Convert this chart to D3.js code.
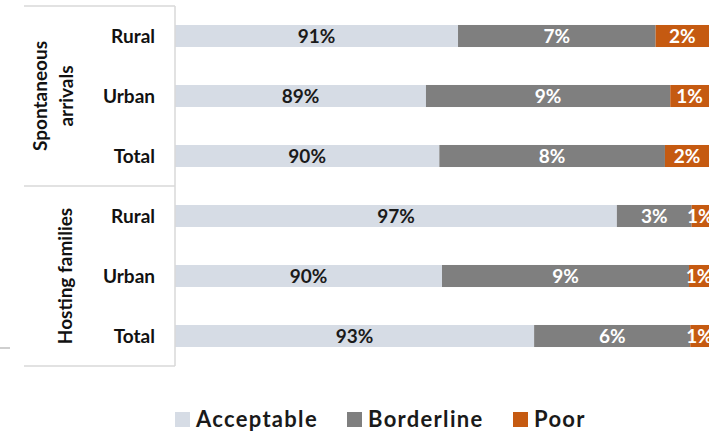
<!DOCTYPE html>
<html>
<head>
<meta charset="utf-8">
<script src="https://cdn.jsdelivr.net/npm/d3@7"></script>
<style>
  body { margin: 0; background: #fff; }
  svg { display: block; font-family: Lato, "Open Sans", sans-serif; font-weight: 700; }
</style>
</head>
<body>
<svg id="chart" width="722" height="433"></svg>
<script>
// data (x axis starts at 80%)
const groups = ['Spontaneous arrivals', 'Hosting families'];
const categories = ['Rural', 'Urban', 'Total', 'Rural', 'Urban', 'Total'];
const acceptable = [90.6, 89.4, 89.9, 96.55, 90.0, 93.45];
const borderline = [7.4, 9.15, 8.45, 2.8, 9.25, 5.85];
const poor = [2.0, 1.45, 1.65, 0.65, 0.75, 0.7];
const seriesNames = ['Acceptable', 'Borderline', 'Poor'];
const xDomain = [80, 100];

const colors = {Acceptable: '#d6dce5', Borderline: '#7f7f7f', Poor: '#c55a11'};
const labelColors = {Acceptable: '#1a1a1a', Borderline: '#fff', Poor: '#fff'};
const values = {Acceptable: acceptable, Borderline: borderline, Poor: poor};

const rows = categories.map(function(c, i) {
  return {id: i, group: groups[Math.floor(i / 3)], cat: c,
    Acceptable: acceptable[i], Borderline: borderline[i], Poor: poor[i]};
});

const svg = d3.select('#chart');
const plot = {left: 175, right: 709, top: 6, bottom: 366};

let x = d3.scaleLinear().domain(xDomain).range([plot.left, plot.right]).clamp(true);
let y = d3.scaleBand().domain(rows.map(function(d) { return d.id; }))
  .range([plot.top, plot.bottom]).paddingInner(0.633).paddingOuter(0.3165);

let stack = d3.stack().keys(seriesNames)(rows);

svg.append('clipPath').attr('id', 'plotClip')
  .append('rect')
    .attr('x', plot.left).attr('y', 0)
    .attr('width', plot.right - plot.left + 1).attr('height', 433);

let layers = svg.append('g').attr('clip-path', 'url(#plotClip)')
  .selectAll('g').data(stack).enter()
  .append('g');

layers.selectAll('rect')
  .data(function(s) { return s.map(function(d) { d.key = s.key; return d; }); })
  .enter().append('rect')
    .attr('fill', function(d) { return colors[d.key]; })
    .attr('x', function(d) { return x(d[0]); })
    .attr('y', function(d) { return y(d.data.id); })
    .attr('width', function(d) { return x(d[1]) - x(d[0]); })
    .attr('height', y.bandwidth());

layers.selectAll('text')
  .data(function(s) { return s; })
  .enter().append('text')
    .attr('x', function(d) { return (x(d[0]) + x(d[1])) / 2; })
    .attr('y', function(d) { return y(d.data.id) + y.bandwidth() / 2; })
    .attr('dy', '0.37em')
    .attr('text-anchor', 'middle')
    .attr('font-size', 19)
    .attr('fill', function(d) { return labelColors[d.key]; })
    .text(function(d) { return Math.round(values[d.key][d.data.id]) + '%'; });

// category labels
svg.append('g').selectAll('text').data(rows).enter()
  .append('text')
    .attr('x', 155)
    .attr('y', function(d) { return y(d.id) + y.bandwidth() / 2; })
    .attr('dy', '0.37em')
    .attr('text-anchor', 'end')
    .attr('font-size', 19)
    .attr('fill', '#111')
    .text(function(d) { return d.cat; });

// group brackets
const lineColor = '#d9d9d9';
const groupEdges = [plot.top, 186, plot.bottom];
svg.append('g').selectAll('line').data(groupEdges).enter()
  .append('line')
    .attr('x1', 24).attr('x2', plot.left)
    .attr('y1', function(d) { return d; }).attr('y2', function(d) { return d; })
    .attr('stroke', lineColor).attr('stroke-width', 1.5);
svg.append('line')
  .attr('x1', plot.left).attr('x2', plot.left)
  .attr('y1', plot.top).attr('y2', plot.bottom)
  .attr('stroke', lineColor).attr('stroke-width', 1.5);
svg.append('line')
  .attr('x1', 0).attr('x2', 10).attr('y1', 348).attr('y2', 348)
  .attr('stroke', '#bfbfbf').attr('stroke-width', 1.5);

// group labels (rotated)
const groupLines = [['Spontaneous', 'arrivals'], ['Hosting families']];
const groupBase = [47, 72];
groupLines.forEach(function(lines, gi) {
  let cy = (groupEdges[gi] + groupEdges[gi + 1]) / 2;
  let t = svg.append('text')
    .attr('transform', 'translate(' + groupBase[gi] + ',' + cy + ') rotate(-90)')
    .attr('text-anchor', 'middle')
    .attr('font-size', 19)
    .attr('fill', '#111');
  lines.forEach(function(l, li) {
    t.append('tspan')
      .attr('x', 0)
      .attr('dy', li === 0 ? 0 : 26)
      .text(l);
  });
});

// legend
const legendX = [175, 347, 513];
let lg = svg.append('g').selectAll('g').data(seriesNames).enter()
  .append('g')
    .attr('transform', function(d, i) { return 'translate(' + legendX[i] + ',419)'; });
lg.append('rect')
  .attr('x', 0).attr('y', -7).attr('width', 15).attr('height', 15)
  .attr('fill', function(d) { return colors[d]; });
lg.append('text')
  .attr('x', 21).attr('dy', '0.37em')
  .attr('font-size', 22)
  .attr('letter-spacing', 1.3)
  .attr('fill', '#1a1a1a')
  .text(function(d) { return d; });
</script>
</body>
</html>
